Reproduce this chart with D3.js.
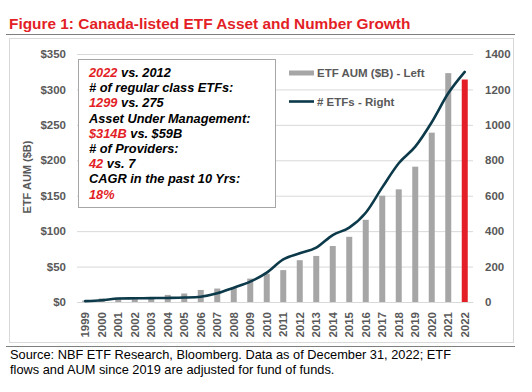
<!DOCTYPE html>
<html>
<head>
<meta charset="utf-8">
<script src="https://cdn.jsdelivr.net/npm/d3@7"></script>
<style>
  body { margin: 0; background: #fff; }
  svg { font-family: "Liberation Sans", Arial, sans-serif; display: block; }
</style>
</head>
<body>
<script>
const years = ['1999','2000','2001','2002','2003','2004','2005','2006','2007','2008','2009','2010',
               '2011','2012','2013','2014','2015','2016','2017','2018','2019','2020','2021','2022']
const aum = [2, 5, 6, 6, 7, 10, 12, 17, 19, 21, 33, 40, 45, 59, 65, 79, 92, 116, 150, 159, 191, 239, 323, 314]
const etfs = [5, 10, 20, 21, 22, 23, 25, 30, 49, 81, 115, 166, 241, 275, 307, 378, 420, 504, 647, 783, 877, 1015, 1178, 1299]
const leftTicks = [0, 50, 100, 150, 200, 250, 300, 350]
const rightTicks = [0, 200, 400, 600, 800, 1000, 1200, 1400]
const legendLabels = ['ETF AUM ($B) - Left', '# ETFs - Right']
const note = [
  [['2022', true], [' vs. 2012', false]],
  [['# of regular class ETFs:', false]],
  [['1299', true], [' vs. 275', false]],
  [['Asset Under Management:', false]],
  [['$314B', true], [' vs. $59B', false]],
  [['# of Providers:', false]],
  [['42', true], [' vs. 7', false]],
  [['CAGR in the past 10 Yrs:', false]],
  [['18%', true]]
]

const w = 532
const h = 392
const red = '#e31e26'
const grey = '#a6a6a6'
const navy = '#0c3a4a'
const txt = '#595959'

const data = years.map((y, i) => ({year: y, aum: aum[i], etfs: etfs[i]}))

const svg = d3.select('body').append('svg')
  .attr('width', w).attr('height', h)

// title
svg.append('text')
  .attr('x', 9).attr('y', 29)
  .attr('fill', red)
  .style('font-size', '15.4px').style('font-weight', 'bold')
  .text('Figure 1: Canada-listed ETF Asset and Number Growth')

svg.append('line').attr('x1', 6).attr('x2', 515).attr('y1', 34.5).attr('y2', 34.5)
  .attr('stroke', '#7f7f7f').attr('stroke-width', 1)

// chart frame
svg.append('rect').attr('x', 9.5).attr('y', 38.5).attr('width', 504).attr('height', 304)
  .attr('fill', '#fff').attr('stroke', '#d9d9d9')

svg.append('line').attr('x1', 6).attr('x2', 515).attr('y1', 346.5).attr('y2', 346.5)
  .attr('stroke', '#7f7f7f').attr('stroke-width', 1)

const xScale = d3.scaleBand().domain(years).range([77, 473])
const yLeft = d3.scaleLinear().domain([0, 350]).range([302, 54])
const yRight = d3.scaleLinear().domain([0, 1400]).range([302, 54])

// gridlines
svg.append('g')
  .attr('transform', 'translate(77,0)')
  .call(d3.axisLeft(yLeft).tickValues(leftTicks).tickSize(-396).tickFormat(''))
  .call(g => g.select('.domain').remove())
  .call(g => g.selectAll('line').attr('stroke', '#d9d9d9'))

// left axis
svg.append('g')
  .attr('transform', 'translate(66,0)')
  .call(d3.axisLeft(yLeft).tickValues(leftTicks).tickSize(0).tickPadding(0).tickFormat(d => '$' + d))
  .call(g => g.select('.domain').remove())
  .call(g => g.selectAll('text').attr('fill', txt).style('font-size', '11.5px').style('font-weight', 'bold')
    .style('font-family', '"Liberation Sans", Arial, sans-serif'))

// right axis
svg.append('g')
  .attr('transform', 'translate(485,0)')
  .call(d3.axisRight(yRight).tickValues(rightTicks).tickSize(0).tickPadding(0).tickFormat(d => String(d)))
  .call(g => g.select('.domain').remove())
  .call(g => g.selectAll('text').attr('fill', txt).style('font-size', '11.5px').style('font-weight', 'bold')
    .style('font-family', '"Liberation Sans", Arial, sans-serif'))

svg.append('text')
  .attr('transform', 'translate(31,177) rotate(-90)')
  .attr('text-anchor', 'middle')
  .attr('fill', txt).style('font-size', '11px').style('font-weight', 'bold')
  .text('ETF AUM ($B)')

// bars
svg.selectAll('rect.bar')
  .data(data)
  .enter()
  .append('rect')
  .attr('class', 'bar')
  .attr('x', d => xScale(d.year) + xScale.bandwidth() / 2 - 3)
  .attr('width', 6)
  .attr('y', d => yLeft(d.aum))
  .attr('height', d => yLeft(0) - yLeft(d.aum))
  .attr('fill', d => d.year === '2022' ? red : grey)

// x axis
svg.append('g')
  .attr('transform', 'translate(0,302)')
  .call(d3.axisBottom(xScale).tickSize(0).tickPadding(0))
  .call(g => g.select('.domain').attr('stroke', '#d9d9d9'))
  .call(g => g.selectAll('text')
    .attr('transform', 'rotate(-90)')
    .attr('x', -10).attr('y', 0).attr('dy', '0.35em')
    .attr('text-anchor', 'end')
    .attr('fill', txt).style('font-size', '11.5px').style('font-weight', 'bold')
    .style('font-family', '"Liberation Sans", Arial, sans-serif'))

// line
const line = d3.line()
  .x(d => xScale(d.year) + xScale.bandwidth() / 2)
  .y(d => yRight(d.etfs))
  .curve(d3.curveMonotoneX)

svg.append('path')
  .datum(data)
  .attr('d', line)
  .attr('fill', 'none')
  .attr('stroke', navy)
  .attr('stroke-width', 2.6)
  .attr('stroke-linecap', 'round')

// legend
const legend = svg.append('g')
legend.append('rect').attr('x', 289).attr('y', 70.5).attr('width', 25).attr('height', 5).attr('fill', grey)
legend.append('line').attr('x1', 289).attr('x2', 314).attr('y1', 101.5).attr('y2', 101.5)
  .attr('stroke', navy).attr('stroke-width', 2.6)
legend.selectAll('text')
  .data(legendLabels)
  .enter()
  .append('text')
  .attr('x', 317)
  .attr('y', (d, i) => 77 + i * 28.5)
  .attr('fill', txt).style('font-size', '11.5px').style('font-weight', 'bold')
  .text(d => d)

// annotation box
svg.append('rect').attr('x', 78.5).attr('y', 59.5).attr('width', 197).attr('height', 148)
  .attr('fill', '#fff').attr('stroke', '#a6a6a6')

const noteText = svg.append('text')
  .style('font-size', '12.8px').style('font-weight', 'bold').style('font-style', 'italic')

note.forEach((parts, i) => {
  const t = noteText.append('tspan').attr('x', 89).attr('y', 77 + i * 15.2)
  parts.forEach(p => {
    t.append('tspan').attr('fill', p[1] ? red : '#000').text(p[0])
  })
})

// footer
const foot = svg.append('text')
  .attr('fill', '#000').style('font-size', '12.8px')
foot.append('tspan').attr('x', 10).attr('y', 359)
  .text('Source: NBF ETF Research, Bloomberg. Data as of December 31, 2022; ETF')
foot.append('tspan').attr('x', 10).attr('y', 374)
  .text('flows and AUM since 2019 are adjusted for fund of funds.')
</script>
</body>
</html>
